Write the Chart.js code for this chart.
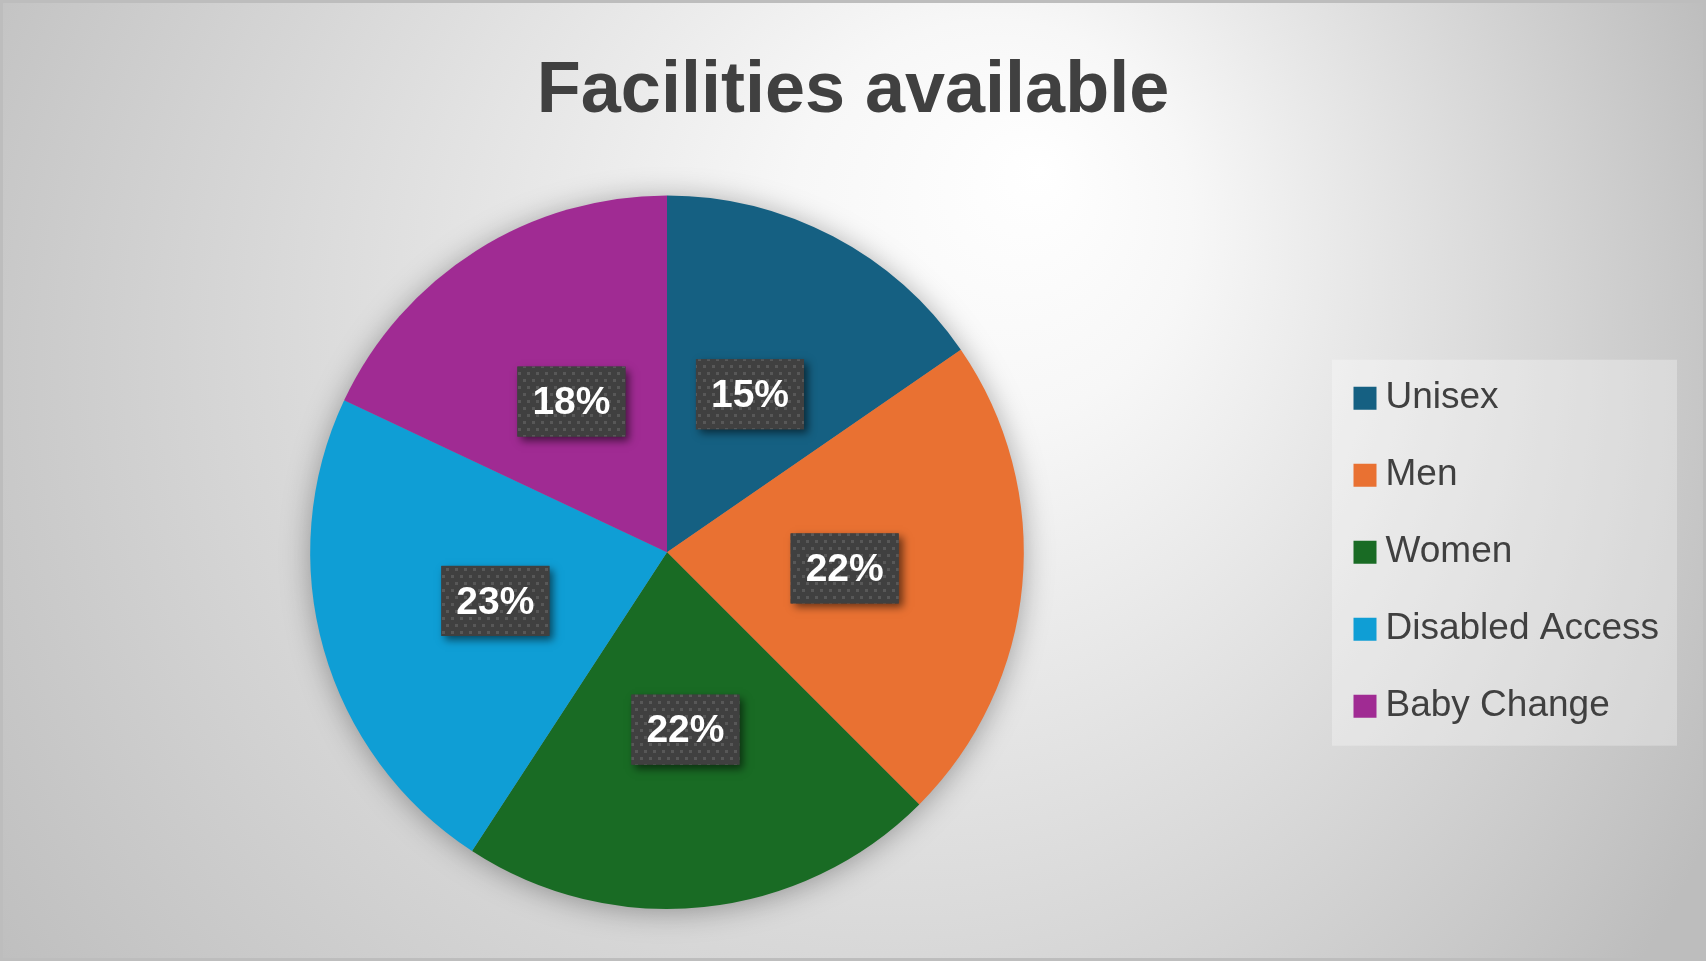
<!DOCTYPE html>
<html lang="en">
<head>
    <meta charset="UTF-8">
    <title>Facilities available</title>
    <script src="https://cdn.jsdelivr.net/npm/chart.js"></script>
    <style>
        html, body { margin: 0; padding: 0; background: #d0d0d0; }
        #chart { display: block; }
    </style>
</head>
<body>
    <canvas id="chart" width="1706" height="961"></canvas>

    <script>
        // chart data
        const categories = ['Unisex', 'Men', 'Women', 'Disabled Access', 'Baby Change'];
        const shares = [15.4, 22.1, 21.7, 22.8, 18.0];
        const sliceColors = ['#156082', '#E97132', '#196B24', '#0F9ED5', '#A02B93'];

        const textColor = '#404040';
        const pieCenterX = 667;
        const legendItemX = 1363;

        // dark dotted fill used behind the data labels
        function makeDotPattern(ctx) {
            const tile = document.createElement('canvas');
            tile.width = 9;
            tile.height = 14;
            const t = tile.getContext('2d');
            t.fillStyle = '#404040';
            t.fillRect(0, 0, 9, 14);
            t.fillStyle = '#585858';
            t.fillRect(1, 1, 3, 3);
            t.fillRect(5, 8, 3, 3);
            return ctx.createPattern(tile, 'repeat');
        }

        const backgroundPlugin = {
            id: 'background',
            afterLayout(chart) {
                // title centred on the whole canvas, not on the padded area
                const t = chart.titleBlock;
                if (t) {
                    t.left = 0;
                    t.right = chart.width;
                    t.width = chart.width;
                }
            },
            beforeDraw(chart) {
                const ctx = chart.ctx;
                const w = chart.width, h = chart.height;
                ctx.save();
                const g = ctx.createRadialGradient(1040, 170, 0, 800, 420, 1000);
                g.addColorStop(0, '#ffffff');
                g.addColorStop(0.2, '#f7f7f7');
                g.addColorStop(1, '#bdbdbd');
                ctx.fillStyle = g;
                ctx.fillRect(0, 0, w, h);
                ctx.strokeStyle = '#bdbdbd';
                ctx.lineWidth = 3;
                ctx.strokeRect(1.5, 1.5, w - 3, h - 3);

                // legend panel
                const boxes = chart.legend.legendHitBoxes;
                if (boxes && boxes.length) {
                    const first = boxes[0], last = boxes[boxes.length - 1];
                    const left = first.left - 31;
                    const top = first.top - 20;
                    const bottom = last.top + last.height + 21;
                    ctx.fillStyle = 'rgba(255,255,255,0.3)';
                    ctx.fillRect(left, top, 345, bottom - top);
                }
                ctx.restore();
            }
        };

        const pieShadowPlugin = {
            id: 'pieShadow',
            beforeDatasetsDraw(chart) {
                const arc = chart.getDatasetMeta(0).data[0];
                if (!arc) return;
                const ctx = chart.ctx;
                ctx.save();
                ctx.shadowColor = 'rgba(0,0,0,0.35)';
                ctx.shadowBlur = 30;
                ctx.shadowOffsetY = 3;
                ctx.fillStyle = '#888888';
                ctx.beginPath();
                ctx.arc(arc.x, arc.y, arc.outerRadius - 1, 0, Math.PI * 2);
                ctx.fill();
                ctx.restore();
            }
        };

        const percentLabelPlugin = {
            id: 'percentLabels',
            afterDatasetsDraw(chart) {
                const ctx = chart.ctx;
                const data = chart.data.datasets[0].data;
                const total = data.reduce((a, b) => a + b, 0);
                const pattern = makeDotPattern(ctx);
                ctx.save();
                ctx.font = 'bold 39px "Liberation Sans", Arial, sans-serif';
                ctx.textAlign = 'center';
                ctx.textBaseline = 'middle';
                chart.getDatasetMeta(0).data.forEach((arc, i) => {
                    const p = arc.getCenterPoint();
                    const text = Math.round(data[i] / total * 100) + '%';
                    const bw = ctx.measureText(text).width + 30;
                    const bh = 70;
                    const bx = p.x - bw / 2, by = p.y - bh / 2;

                    ctx.save();
                    ctx.shadowColor = 'rgba(0,0,0,0.55)';
                    ctx.shadowBlur = 8;
                    ctx.shadowOffsetX = 4;
                    ctx.shadowOffsetY = 4;
                    ctx.fillStyle = '#404040';
                    ctx.fillRect(bx, by, bw, bh);
                    ctx.restore();

                    ctx.fillStyle = pattern;
                    ctx.fillRect(bx, by, bw, bh);
                    ctx.fillStyle = '#ffffff';
                    ctx.fillText(text, p.x, p.y + 2);
                });
                ctx.restore();
            }
        };

        const chart = new Chart(document.getElementById('chart'), {
            type: 'pie',
            data: {
                labels: categories,
                datasets: [{
                    data: shares,
                    backgroundColor: sliceColors,
                    borderWidth: 0
                }]
            },
            options: {
                responsive: false,
                devicePixelRatio: 1,
                animation: false,
                layout: {
                    padding: { left: 10, right: 27, top: 0, bottom: 52 }
                },
                plugins: {
                    title: {
                        display: true,
                        text: 'Facilities available',
                        color: textColor,
                        font: { family: '"Liberation Sans", Arial, sans-serif', size: 72, weight: 'bold', lineHeight: 1.2 },
                        padding: { top: 49, bottom: 60 }
                    },
                    legend: {
                        position: 'right',
                        align: 'center',
                        fullSize: false,
                        labels: {
                            color: textColor,
                            font: { family: '"Liberation Sans", Arial, sans-serif', size: 37 },
                            usePointStyle: true,
                            pointStyle: 'rect',
                            boxWidth: 4,
                            boxHeight: 23,
                            padding: 40
                        }
                    },
                    tooltip: { enabled: false }
                }
            },
            plugins: [backgroundPlugin, pieShadowPlugin, percentLabelPlugin]
        });

        // place the legend, then keep the pie centred where the reference has it
        const pad = chart.options.layout.padding;
        pad.right += chart.legend.legendHitBoxes[0].left - legendItemX;
        chart.update();
        pad.left = Math.max(0, 2 * pieCenterX - chart.chartArea.right);
        chart.update();
    </script>
</body>
</html>
